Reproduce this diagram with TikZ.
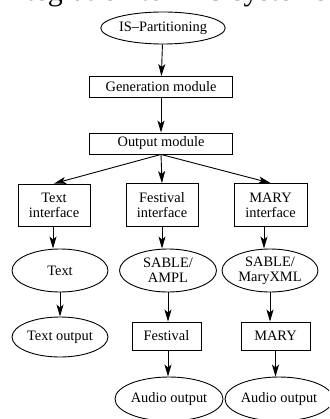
\documentclass[tikz,border=0pt]{standalone}
\usepackage{fontspec}
\setmainfont{Liberation Serif}
\usetikzlibrary{shapes.geometric,arrows.meta}
\tikzset{
  lbl/.style={font=\fontsize{14.4}{15}\selectfont, align=center, inner sep=0pt, draw, line width=0.9pt},
  boxnode/.style={lbl, rectangle},
  ellnode/.style={lbl, ellipse},
  arr/.style={line width=0.9pt, -{Stealth[length=12pt,width=7pt,inset=3pt]}}
}
\begin{document}
\begin{tikzpicture}[x=1pt,y=-1pt]
\useasboundingbox (0,0) rectangle (329,419);
\clip (0,0) rectangle (329,419);
\node[anchor=base west, inner sep=0pt, font=\fontsize{30}{30}\selectfont] (title) at (1,1) {Integration to TTS systems};
\node[ellnode, minimum width=122, minimum height=32] (isp) at (163,28) {IS--Partitioning};
\node[boxnode, minimum width=143, minimum height=21] (gen) at (161,87) {Generation module};
\node[boxnode, minimum width=143, minimum height=21] (out) at (161,143.5) {Output module};
\node[boxnode, minimum width=72, minimum height=42] (ti) at (54,205) {Text\\interface};
\node[boxnode, minimum width=72, minimum height=43] (fi) at (162,205) {Festival\\interface};
\node[boxnode, minimum width=73, minimum height=43] (mi) at (270.5,205) {MARY\\interface};
\node[ellnode, minimum width=96, minimum height=43] (te) at (60,270.5) {Text};
\node[ellnode, minimum width=97, minimum height=43] (sa) at (168,270.5) {SABLE/\\AMPL};
\node[ellnode, minimum width=96, minimum height=43] (sm) at (270,270.5) {SABLE/\\MaryXML};
\node[ellnode, minimum width=96, minimum height=40] (to) at (60,337) {Text output};
\node[boxnode, minimum width=69, minimum height=28] (fb) at (166.5,336) {Festival};
\node[boxnode, minimum width=69, minimum height=28] (mb) at (275.5,336) {MARY};
\node[ellnode, minimum width=97, minimum height=44] (ao1) at (169,399) {Audio output};
\node[ellnode, minimum width=100, minimum height=44] (ao2) at (279,399) {Audio output};
\draw[arr] (isp) -- (gen);
\draw[arr] (gen) -- (out);
\draw[arr] (out.south) -- (ti.north);
\draw[arr] (out.south) -- (fi.north);
\draw[arr] (out.south) -- (mi.north);
\draw[arr] ([xshift=-1pt]ti.south) -- ([xshift=-1pt]ti.south |- te.north);
\draw[arr] (fi.south) -- (fi.south |- sa.north);
\draw[arr] ([xshift=-6.5pt]mi.south) -- ([xshift=-6.5pt]mi.south |- sm.north);
\draw[arr] (te.south) -- (te.south |- to.north);
\draw[arr] (sa.south) -- (sa.south |- fb.north);
\draw[arr] (sm.south) -- (sm.south |- mb.north);
\draw[arr] ([xshift=1.5pt]fb.south) -- ([xshift=1.5pt]fb.south |- ao1.north);
\draw[arr] (mb.south) -- (mb.south |- ao2.north);
\end{tikzpicture}
\end{document}
